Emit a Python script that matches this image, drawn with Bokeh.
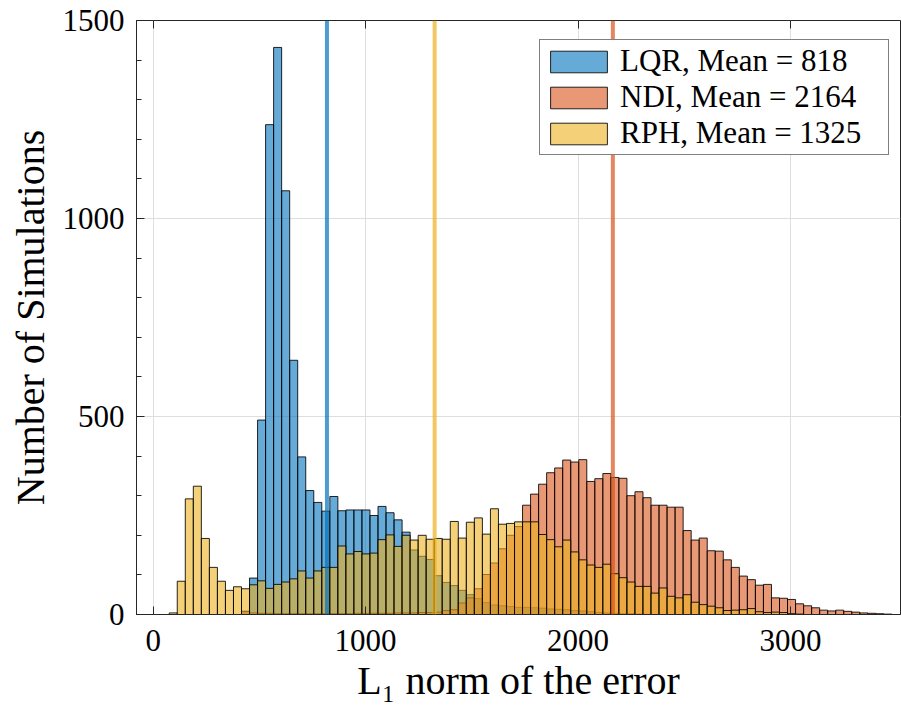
import numpy as np
from bokeh.plotting import figure
from bokeh.models import Range1d, FixedTicker, LinearAxis, Span, Grid
from bokeh.embed import file_html
from bokeh.resources import INLINE

# ---------------- data ----------------
bin_width = 37.8

lqr_first_bin = 11
lqr_counts = [8, 92, 491, 1237, 1432, 1070, 642, 398, 313, 283, 261, 298, 262, 264,
              264, 264, 250, 273, 257, 239, 208, 163, 147, 139, 98, 81, 73, 61, 50, 40,
              30, 24, 22, 20, 18, 18, 17, 16, 14, 13, 12, 10, 9, 7, 5, 4, 3, 2, 2, 1]

ndi_first_bin = 11
ndi_counts = [8, 4, 3, 3, 2, 2, 2, 2, 2, 2, 2, 2, 2, 2, 3, 3, 3, 3, 3, 4, 4, 4, 5, 5,
              6, 10, 12, 29, 42, 65, 101, 130, 166, 200, 222, 276, 304, 329, 358, 370,
              390, 385, 391, 336, 343, 356, 346, 344, 300, 310, 295, 276, 276, 271, 271,
              212, 188, 193, 161, 160, 138, 119, 97, 88, 74, 76, 42, 41, 38, 27, 22, 17,
              11, 9, 11, 8, 6, 4, 3, 2, 1]

rph_first_bin = 2
rph_counts = [4, 84, 292, 324, 192, 119, 84, 61, 70, 65, 75, 85, 66, 76, 82, 90, 110,
              92, 110, 119, 119, 173, 153, 159, 153, 155, 189, 201, 172, 200, 188, 200,
              190, 192, 190, 235, 193, 233, 244, 203, 267, 228, 230, 234, 234, 234, 202,
              189, 171, 188, 158, 138, 125, 119, 127, 103, 93, 82, 71, 71, 54, 67, 46,
              42, 50, 31, 25, 21, 17, 10, 11, 12, 15, 7, 5, 6, 5, 2, 1]

series_names = ["LQR", "NDI", "RPH"]
series_means = [818, 2164, 1325]
series_colors = ["#0072BD", "#D95319", "#EDB120"]

x_ticks = [0, 1000, 2000, 3000]
y_ticks = [0, 500, 1000, 1500]
y_minor_ticks = [0, 100, 200, 300, 400, 500, 600, 700, 800, 900, 1000, 1100, 1200,
                 1300, 1400, 1500]

x_label = "L\u2081 norm of the error"
y_label = "Number of Simulations"

# ---------------- figure ----------------
FONT = "Liberation Serif"
AX = "#262626"

p = figure(width=901, height=709, output_backend="svg", toolbar_location=None,
           x_range=Range1d(-78.5, 3518), y_range=Range1d(0, 1500),
           min_border_left=136, min_border_right=1, min_border_top=20,
           min_border_bottom=95, x_axis_location=None, y_axis_location=None)
p.background_fill_color = "white"
p.border_fill_color = "white"
p.outline_line_color = AX
p.outline_line_width = 1

series = [
    (lqr_first_bin, lqr_counts),
    (ndi_first_bin, ndi_counts),
    (rph_first_bin, rph_counts),
]
for (first, counts), name, mean, color in zip(series, series_names, series_means, series_colors):
    counts = np.asarray(counts, dtype=float)
    idx = first + np.arange(len(counts))
    left = idx * bin_width
    right = left + bin_width
    p.quad(left=left, right=right, bottom=0, top=counts,
           fill_color=color, fill_alpha=0.6, line_color="black", line_alpha=0.85,
           line_width=1, legend_label=f"{name}, Mean = {mean}")

for name, mean, color in zip(series_names, series_means, series_colors):
    p.add_layout(Span(location=mean, dimension="height", line_color=color,
                      line_width=4, line_alpha=0.7))

# axes
xaxis = LinearAxis(ticker=FixedTicker(ticks=x_ticks))
yaxis = LinearAxis(ticker=FixedTicker(ticks=y_ticks, minor_ticks=y_minor_ticks))
xtop = LinearAxis(ticker=FixedTicker(ticks=x_ticks),
                  major_label_overrides={t: "" for t in x_ticks})

for ax in (xaxis, yaxis, xtop):
    ax.axis_line_color = AX
    ax.major_tick_line_color = AX
    ax.major_tick_in = 8
    ax.major_tick_out = 0
    ax.minor_tick_in = 5
    ax.minor_tick_out = 0
    ax.major_label_text_font = FONT
    ax.major_label_text_font_size = "31px"
    ax.major_label_text_color = "black"
    ax.axis_label_text_font = FONT
    ax.axis_label_text_font_style = "normal"
    ax.axis_label_text_color = "black"

xaxis.minor_tick_line_color = None
xtop.minor_tick_line_color = None
xaxis.major_label_standoff = 15
xaxis.axis_label = x_label
xaxis.axis_label_text_font_size = "40px"
xaxis.axis_label_standoff = 4
yaxis.major_label_standoff = 12
yaxis.minor_tick_line_color = AX
yaxis.axis_label = y_label
yaxis.axis_label_text_font_size = "40px"
yaxis.axis_label_standoff = 7
xtop.major_label_standoff = 0
xtop.axis_line_color = None

p.add_layout(xaxis, "below")
p.add_layout(yaxis, "left")
p.add_layout(xtop, "above")

p.xgrid.visible = False
p.ygrid.visible = False
p.add_layout(Grid(dimension=0, ticker=xaxis.ticker, grid_line_color="#dedede", grid_line_width=1))
p.add_layout(Grid(dimension=1, ticker=yaxis.ticker, grid_line_color="#dedede", grid_line_width=1))

# legend
lg = p.legend[0]
lg.location = (403, 459)
lg.glyph_width = 71
lg.glyph_height = 27
lg.label_height = 27
lg.label_width = 265
lg.label_text_font = FONT
lg.label_text_font_size = "31px"
lg.label_text_color = "black"
lg.label_standoff = 6
lg.padding = 3
lg.spacing = 0
lg.margin = 0
lg.border_line_color = "black"
lg.border_line_width = 1
lg.background_fill_alpha = 1

open("out.html", "w").write(file_html(p, INLINE))
